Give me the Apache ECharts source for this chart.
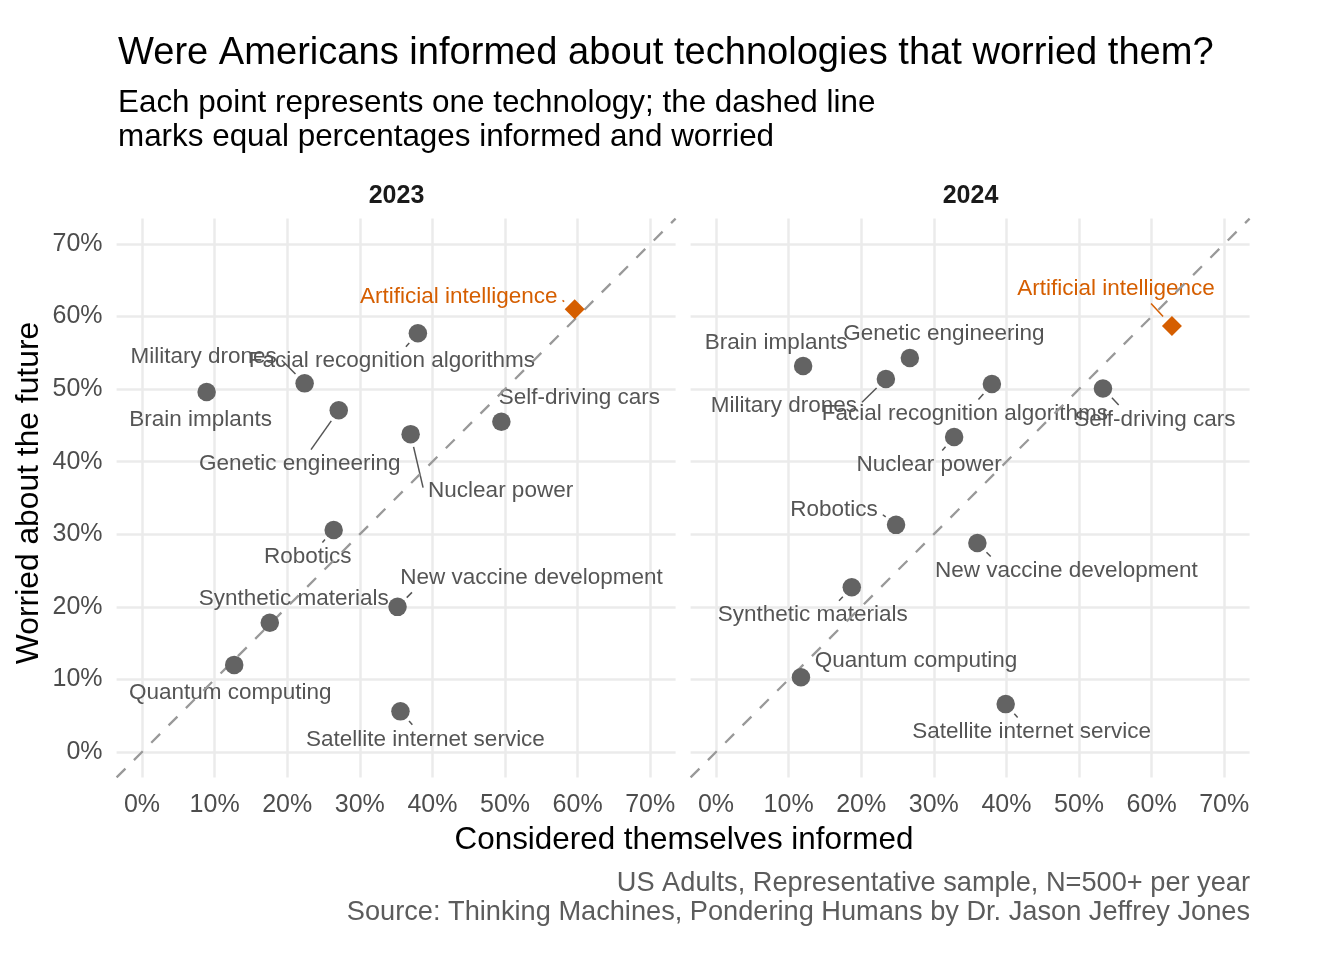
<!DOCTYPE html>
<html>
<head>
<meta charset="utf-8">
<script src="https://cdn.jsdelivr.net/npm/echarts@6/dist/echarts.min.js"></script>
<style>
  html, body { margin: 0; padding: 0; background: #ffffff; }
  #main { width: 1344px; height: 960px; }
</style>
</head>
<body>
<div id="main"></div>
<script>
// data (percent)
var techNames = ["Artificial intelligence", "Brain implants", "Facial recognition algorithms", "Genetic engineering",
  "Military drones", "New vaccine development", "Nuclear power", "Quantum computing", "Robotics",
  "Satellite internet service", "Self-driving cars", "Synthetic materials"];
var informed2023 = [59.6, 8.9, 38.0, 27.1, 22.4, 35.2, 37.0, 12.7, 26.4, 35.6, 49.5, 17.6];
var worried2023 = [61.0, 49.6, 57.7, 47.1, 50.8, 20.0, 43.8, 12.0, 30.6, 5.6, 45.5, 17.8];
var informed2024 = [62.8, 12.0, 38.0, 26.7, 23.4, 36.0, 32.8, 11.7, 24.8, 39.9, 53.3, 18.7];
var worried2024 = [58.7, 53.2, 50.7, 54.3, 51.4, 28.8, 43.4, 10.3, 31.3, 6.6, 50.1, 22.7];
var years = ["2023", "2024"];
var tickValues = [0, 10, 20, 30, 40, 50, 60, 70];
var highlight = "Artificial intelligence";

// label placement (pixel nudges from the point, same order as techNames)
var nudge2023 = [[-116, -13], [-6, 28], [-26, 28], [-39, 54], [-101, -27], [134, -29],
  [90, 57], [-4, 28], [-26, 27], [25, 28], [78, -24], [24, -24]];
var nudge2024 = [[-56, -37], [-27, -23], [-27, 30], [34, -24], [-102, 27], [89, 28],
  [-25, 28], [115, -16], [-62, -15], [26, 28], [52, 31], [-39, 28]];

var FONT = "'Liberation Sans', Arial, sans-serif";
var LABEL_SIZE = 22.5;
var axisMin = -3.5, axisMax = 73.5;
var grayPt = "#636363", orange = "#D55E00", labelGray = "#555555";

// text width for the repel-style segments
var measureCtx = document.createElement("canvas").getContext("2d");
measureCtx.font = LABEL_SIZE + "px " + FONT;
function textWidth(s) { return measureCtx.measureText(s).width; }

// where a segment meets the label box (nearest edge point, nudged to the centre)
function connectPoint(px, py, x0, y0, x1, y1) {
  var ox, oy, sideX = false, sideY = false;
  if (px >= x0 && px <= x1) ox = px; else { ox = px > x1 ? x1 : x0; sideX = true; }
  if (py >= y0 && py <= y1) oy = py; else { oy = py > y1 ? y1 : y0; sideY = true; }
  var mx = (x0 + x1) / 2, my = (y0 + y1) / 2;
  var d = Math.sqrt((px - ox) * (px - ox) + (py - oy) * (py - oy));
  var alt1 = Math.sqrt((px - mx) * (px - mx) + (py - oy) * (py - oy));
  var alt2 = Math.sqrt((px - ox) * (px - ox) + (py - my) * (py - my));
  if (sideY && !sideX) ox = ox + (mx - ox) * d / alt1;
  else if (sideX && !sideY) oy = oy + (my - oy) * d / alt2;
  else if (sideX && sideY) {
    if (alt1 < alt2) ox = ox + (mx - ox) * d / alt1;
    else oy = oy + (my - oy) * d / alt2;
  }
  return [ox, oy];
}

var panels = [
  {x: informed2023, y: worried2023, nudge: nudge2023, left: 116.6},
  {x: informed2024, y: worried2024, nudge: nudge2024, left: 690.6}
];

var grids = [], xAxes = [], yAxes = [], series = [];
panels.forEach(function (p, i) {
  grids.push({left: p.left, top: 218.6, width: 559, height: 558.8});
  xAxes.push({
    gridIndex: i, type: "value", min: axisMin, max: axisMax,
    axisLine: {show: false},
    axisTick: {show: false, customValues: tickValues},
    axisLabel: {customValues: tickValues, formatter: "{value}%", color: "#4d4d4d",
      fontSize: 25, fontFamily: FONT, margin: 15},
    splitLine: {show: true, lineStyle: {color: "#ebebeb", width: 2.5}}
  });
  yAxes.push({
    gridIndex: i, type: "value", min: axisMin, max: axisMax,
    axisLine: {show: false},
    axisTick: {show: false, customValues: tickValues},
    axisLabel: {show: i === 0, customValues: tickValues, formatter: "{value}%", color: "#4d4d4d",
      fontSize: 25, fontFamily: FONT, margin: 14},
    splitLine: {show: true, lineStyle: {color: "#ebebeb", width: 2.5}}
  });

  var labelData = [], segData = [], ptData = [], aiData = [];
  techNames.forEach(function (name, k) {
    var isAI = name === highlight;
    labelData.push({name: name, value: [p.x[k], p.y[k]], label: {color: isAI ? orange : labelGray}});
    segData.push([p.x[k], p.y[k], k]);
    if (isAI) aiData.push({name: name, value: [p.x[k], p.y[k]]});
    else ptData.push({name: name, value: [p.x[k], p.y[k]]});
  });

  // segments from the point to the label box
  series.push({
    type: "custom", xAxisIndex: i, yAxisIndex: i, z: 1, silent: true, clip: false,
    encode: {x: 0, y: 1},
    data: segData,
    renderItem: function (params, api) {
      var k = api.value(2);
      var c = api.coord([api.value(0), api.value(1)]);
      var n = p.nudge[k];
      var cx = c[0] + n[0], cy = c[1] + n[1];
      var hw = textWidth(techNames[k]) / 2 + 5, hh = 14.5;
      var e = connectPoint(c[0], c[1], cx - hw, cy - hh, cx + hw, cy + hh);
      var dx = e[0] - c[0], dy = e[1] - c[1];
      var d = Math.sqrt(dx * dx + dy * dy);
      if (d < 15) return null;
      return {
        type: "line",
        shape: {x1: c[0] + dx / d * 13, y1: c[1] + dy / d * 13, x2: e[0], y2: e[1]},
        style: {stroke: techNames[k] === highlight ? orange : labelGray, lineWidth: 1.5}
      };
    }
  });
  // labels only (under the dashed line)
  series.push({
    type: "scatter", xAxisIndex: i, yAxisIndex: i, z: 1, silent: true,
    symbol: "circle", symbolSize: 17,
    itemStyle: {color: "rgba(0,0,0,0)", opacity: 1},
    data: labelData,
    label: {show: true, position: "inside", formatter: "{b}", fontSize: LABEL_SIZE, fontFamily: FONT, opacity: 1},
    labelLayout: function (params) {
      var n = p.nudge[params.dataIndex];
      return {dx: n[0], dy: n[1]};
    }
  });
  // dashed equality line
  series.push({
    type: "line", xAxisIndex: i, yAxisIndex: i, z: 2, silent: true,
    showSymbol: false, symbol: "none",
    data: [[axisMin, axisMin], [axisMax, axisMax]],
    lineStyle: {color: "#999999", width: 2.3, type: [12.5, 12]}
  });
  series.push({
    type: "scatter", xAxisIndex: i, yAxisIndex: i, z: 3, silent: true,
    symbol: "circle", symbolSize: 18.5, itemStyle: {color: grayPt, opacity: 1},
    data: ptData
  });
  series.push({
    type: "scatter", xAxisIndex: i, yAxisIndex: i, z: 3, silent: true,
    symbol: "diamond", symbolSize: [20, 20], itemStyle: {color: orange, opacity: 1},
    data: aiData
  });
});

function txt(text, x, y, size, opts) {
  opts = opts || {};
  return {
    type: "text", x: x, y: y, rotation: opts.rotation || 0, silent: true,
    style: {
      text: text, fontSize: size, fontFamily: FONT, fontWeight: opts.weight || "normal",
      fill: opts.color || "#000000", lineHeight: opts.lineHeight,
      align: opts.align || "left", verticalAlign: "middle",
      textAlign: opts.align || "left", textVerticalAlign: "middle"
    }
  };
}

var myChart = echarts.init(document.getElementById("main"), null, {renderer: "canvas"});
var option = {
  backgroundColor: "#ffffff",
  animation: false,
  textStyle: {fontFamily: FONT},
  grid: grids,
  xAxis: xAxes,
  yAxis: yAxes,
  series: series,
  graphic: [
    txt("Were Americans informed about technologies that worried them?", 118, 53, 38.1),
    txt("Each point represents one technology; the dashed line\nmarks equal percentages informed and worried", 118, 120, 31.4, {lineHeight: 34}),
    txt(years[0], 396.5, 196, 25, {align: "center", weight: "bold", color: "#1a1a1a"}),
    txt(years[1], 970.5, 196, 25, {align: "center", weight: "bold", color: "#1a1a1a"}),
    txt("Considered themselves informed", 684, 840, 31.4, {align: "center"}),
    txt("Worried about the future", 29, 493, 31.8, {align: "center", rotation: Math.PI / 2}),
    txt("US Adults, Representative sample, N=500+ per year", 1250, 884, 27.2, {align: "right", color: "#5c5c5c"}),
    txt("Source: Thinking Machines, Pondering Humans by Dr. Jason Jeffrey Jones", 1250, 913, 27.2, {align: "right", color: "#5c5c5c"})
  ]
};
myChart.setOption(option);
</script>
</body>
</html>
